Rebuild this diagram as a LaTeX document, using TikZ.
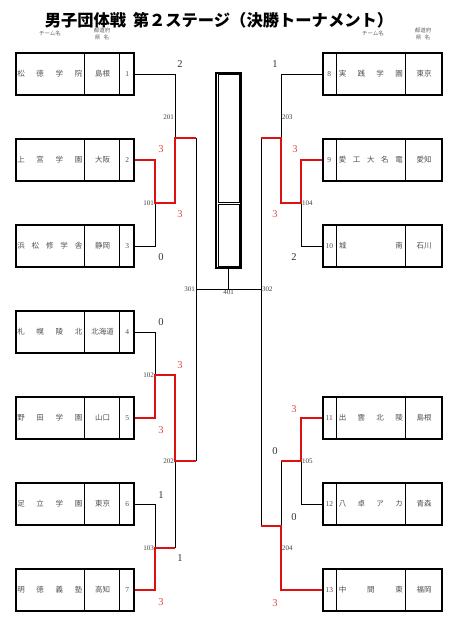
\documentclass[tikz,border=0pt]{standalone}
\usepackage{fontspec}
\setmainfont{Liberation Serif}
\newfontfamily\jp{Noto Sans CJK JP}
\usepackage{xcolor}
\usetikzlibrary{positioning}
\definecolor{winred}{HTML}{DD1111}
\definecolor{scorered}{HTML}{E04848}
\definecolor{textgray}{HTML}{505050}

\begin{document}
\begin{tikzpicture}[
x=1pt,y=-1pt,
teambox/.style={draw,line width=1.4pt,minimum width=118pt,minimum height=42pt,inner sep=0pt},
finalbox/.style={draw,line width=1.4pt,minimum width=25pt,minimum height=195pt,inner sep=0pt},
cell/.style={font=\jp\fontsize{7.5}{8}\selectfont,text=textgray,inner sep=0pt},
num/.style={font=\fontsize{7.5}{8}\selectfont,text=textgray,inner sep=0pt},
head/.style={font=\jp\fontsize{5.5}{6.5}\selectfont,text=black!60,align=center,inner sep=0pt},
wire/.style={line width=0.6pt},
win/.style={line width=2.2pt,winred},
score/.style={font=\fontsize{10.5}{11}\selectfont,text=black!80,inner sep=0pt},
rscore/.style={font=\fontsize{10.5}{11}\selectfont,text=scorered,inner sep=0pt},
match/.style={font=\fontsize{7}{7}\selectfont,text=black!75,inner sep=1pt}
]
\useasboundingbox (0,0) rectangle (449,621);

\node[font=\jp\bfseries\fontsize{16.3}{18}\selectfont] (title) at (219,20) {男子団体戦\hspace{0.4em}第２ステージ（決勝トーナメント）};
\node[head] (hl1) at (50,33) {チーム名};
\node[head] (hl2) at (102,34) {都道府\\県\hspace{0.6em}名};
\node[head] (hr1) at (373,33) {チーム名};
\node[head] (hr2) at (423,34) {都道府\\県\hspace{0.6em}名};

% left side teams
\foreach \n/\y/\nm/\pf in {1/74/{松\hfill 徳\hfill 学\hfill 院}/島根,
  2/160/{上\hfill 宮\hfill 学\hfill 園}/大阪,
  3/246/{浜\hfill 松\hfill 修\hfill 学\hfill 舎}/静岡,
  4/332/{札\hfill 幌\hfill 陵\hfill 北}/北海道,
  5/418/{野\hfill 田\hfill 学\hfill 園}/山口,
  6/504/{足\hfill 立\hfill 学\hfill 園}/東京,
  7/590/{明\hfill 徳\hfill 義\hfill 塾}/高知}{
  \node[teambox] (t\n) at (75,\y) {};
  \draw[wire] ([xshift=69pt]t\n.north west) -- ([xshift=69pt]t\n.south west);
  \draw[wire] ([xshift=-15pt]t\n.north east) -- ([xshift=-15pt]t\n.south east);
  \node[cell] (n\n) at ([xshift=34.5pt]t\n.west) {\makebox[65pt][s]{\nm}};
  \node[cell] (p\n) at ([xshift=-32pt]t\n.east) {\pf};
  \node[num] (k\n) at ([xshift=-7.5pt]t\n.east) {\n};
}

% right side teams
\foreach \n/\y/\nm/\pf in {8/74/{実\hfill 践\hfill 学\hfill 園}/東京,
  9/160/{愛\hfill 工\hfill 大\hfill 名\hfill 電}/愛知,
  10/246/{城\hfill 南}/石川,
  11/418/{出\hfill 雲\hfill 北\hfill 陵}/島根,
  12/504/{八\hfill 卓\hfill ア\hfill カ}/青森,
  13/590/{中\hfill 間\hfill 東}/福岡}{
  \node[teambox,minimum width=119pt] (t\n) at (382.5,\y) {};
  \draw[wire] ([xshift=14pt]t\n.north west) -- ([xshift=14pt]t\n.south west);
  \draw[wire] ([xshift=-37pt]t\n.north east) -- ([xshift=-37pt]t\n.south east);
  \node[cell] (n\n) at ([xshift=48.5pt]t\n.west) {\makebox[64pt][s]{\nm}};
  \node[cell] (p\n) at ([xshift=-18.5pt]t\n.east) {\pf};
  \node[num] (k\n) at ([xshift=7pt]t\n.west) {\n};
}

% final
\node[finalbox] (final) at (228.5,170.5) {};
\draw[wire] (218.5,74.5) rectangle (239.5,202);
\draw[wire] (218.5,204) rectangle (239.5,266.5);

\coordinate (m101) at (155,203);
\coordinate (m102) at (155,375);
\coordinate (m103) at (155,548);
\coordinate (m201) at (175,138);
\coordinate (m202) at (175,461);
\coordinate (m301) at (196,289);
\coordinate (m401) at (228.5,289);
\coordinate (m302) at (261,289);
\coordinate (m203) at (281,138);
\coordinate (m204) at (281,526);
\coordinate (m104) at (301,203);
\coordinate (m105) at (301,461);

% left bracket
\draw[wire] (t1.east) -| (m201);
\draw[wire] (t3.east) -| (m101);
\draw[wire] (t4.east) -| (m102);
\draw[wire] (t6.east) -| (m103);
\draw[wire] (m103 -| m202) -- (m202);
\draw[wire] (m201 -| m301) -- (m202 -| m301);
\draw[win] (t2.east) -| (m101) -| (m201) -- (m201 -| m301);
\draw[win] (t5.east) -| (m102) -| (m202) -- (m202 -| m301);
\draw[win] (t7.east) -| (m103) -- (m103 -| m202);

% right bracket
\draw[wire] (t8.west) -| (m203);
\draw[wire] (t10.west) -| (m104);
\draw[wire] (t12.west) -| (m105);
\draw[wire] (m105 -| m204) -- (m204);
\draw[wire] (m203 -| m302) -- (m204 -| m302);
\draw[win] (t9.west) -| (m104) -| (m203) -- (m203 -| m302);
\draw[win] (t11.west) -| (m105) -- (m105 -| m204);
\draw[win] (t13.west) -| (m204) -- (m204 -| m302);

% final
\draw[wire] (m301) -- (m302);
\draw[wire] (final.south) -- (m401);

% match numbers
\node[match,anchor=east] (l101) at (m101) {101};
\node[match,anchor=east] (l102) at (m102) {102};
\node[match,anchor=east] (l103) at (m103) {103};
\node[match,anchor=east] (l201) at (175,117) {201};
\node[match,anchor=east] (l202) at (m202) {202};
\node[match,anchor=east] (l301) at (m301) {301};
\node[match,anchor=north] (l401) at (m401) {401};
\node[match,anchor=west] (l302) at (m302) {302};
\node[match,anchor=west] (l203) at (281,117) {203};
\node[match,anchor=west] (l204) at (281,548) {204};
\node[match,anchor=west] (l104) at (m104) {104};
\node[match,anchor=west] (l105) at (m105) {105};

% scores
\node[score] (s1) at (180,64) {2};
\node[rscore] (s2) at (161,149) {3};
\node[rscore] (s3) at (180,214) {3};
\node[score] (s4) at (161,257) {0};
\node[score] (s5) at (161,322) {0};
\node[rscore] (s6) at (180,365) {3};
\node[rscore] (s7) at (161,430) {3};
\node[score] (s8) at (161,495) {1};
\node[score] (s9) at (180,558) {1};
\node[rscore] (s10) at (161,602) {3};
\node[score] (s11) at (275,64) {1};
\node[rscore] (s12) at (295,149) {3};
\node[rscore] (s13) at (275,214) {3};
\node[score] (s14) at (294,257) {2};
\node[rscore] (s15) at (294,409) {3};
\node[score] (s16) at (275,451) {0};
\node[score] (s17) at (294,517) {0};
\node[rscore] (s18) at (275,603) {3};
\end{tikzpicture}
\end{document}
